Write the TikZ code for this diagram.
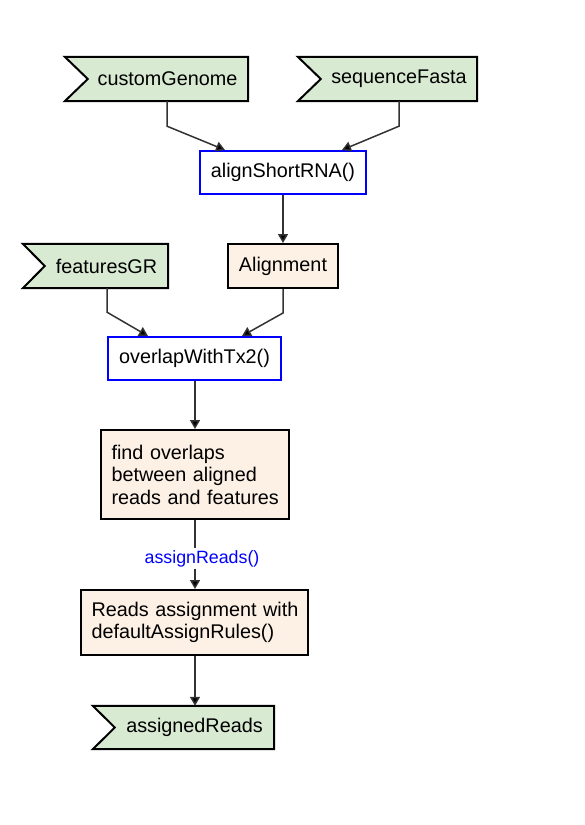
\documentclass[tikz,border=0pt]{standalone}
\usepackage{fontspec}
\setmainfont{Liberation Sans}
\usetikzlibrary{arrows.meta,calc,backgrounds}
\definecolor{flaggreen}{HTML}{D9EAD3}
\definecolor{peach}{HTML}{FDF1E5}
\definecolor{connc}{HTML}{333333}
\tikzset{
  mainfont/.style={font=\fontsize{19.8}{22.5}\selectfont},
  flagnode/.style={inner sep=0pt, mainfont},
  flagdraw/.style={draw=black, line width=2pt, fill=flaggreen, line join=miter},
  funcbox/.style={draw=blue, line width=2pt, fill=white, inner sep=0pt, mainfont},
  databox/.style={draw=black, line width=2pt, fill=peach, inner sep=0pt, mainfont},
  textbox/.style={draw=black, line width=2pt, fill=peach, inner xsep=10.5pt, inner ysep=0pt, align=left, mainfont},
  conn/.style={draw=connc, line width=1.5pt, -{Triangle[width=10pt,length=9pt,fill=black]}},
  fnlabel/.style={fill=white, text=blue, inner sep=2pt, font=\fontsize{17.8}{20}\selectfont}
}
\begin{document}
\begin{tikzpicture}[x=1pt,y=-1pt]
\useasboundingbox (0,0) rectangle (584,825);

% flag nodes (text only; shapes drawn on background layer)
\node[flagnode, minimum width=183pt, minimum height=44pt] (cg) at (156.5,79) {\hspace*{22pt}customGenome};
\node[flagnode, minimum width=179pt, minimum height=44pt] (sf) at (387.5,79) {\hspace*{23pt}sequenceFasta};
\node[flagnode, minimum width=145pt, minimum height=44pt] (fg) at (95.5,266) {\hspace*{22pt}featuresGR};
\node[flagnode, minimum width=181pt, minimum height=43pt] (ar) at (183.5,727.5) {\hspace*{22pt}assignedReads};

\begin{scope}[on background layer]
\fill[white] (0,0) rectangle (584,825);
\foreach \n/\d in {cg/23, sf/23, fg/22, ar/22}{
  \draw[flagdraw] (\n.north west) -- (\n.north east) -- (\n.south east) -- (\n.south west) -- ($(\n.west)+(\d,0)$) -- cycle;
}
\end{scope}

% boxes
\node[funcbox, minimum width=166pt, minimum height=43pt] (asr) at (283,172.5) {alignShortRNA()};
\node[databox, minimum width=110pt, minimum height=44pt] (al) at (283,266) {Alignment};
\node[funcbox, minimum width=173pt, minimum height=43pt] (ov) at (194.5,358.5) {overlapWithTx2()};
\node[textbox, text width=167pt, minimum height=89pt] (fo) at (195,474.5) {\mbox{find overlaps}\\\mbox{between aligned}\\\mbox{reads and features}};
\node[textbox, text width=206pt, minimum height=65pt] (ra) at (194.5,622.5) {\mbox{Reads assignment with}\\\mbox{defaultAssignRules()}};

% connectors
\draw[conn] ($(cg.south)+(10.5,0)$) -- ++(0,25) -- ($(asr.north)+(-58,0)$);
\draw[conn] ($(sf.south)+(11.5,0)$) -- ++(0,25) -- ($(asr.north)+(59,0)$);
\draw[conn] (asr.south) -- (al.north);
\draw[conn] ($(fg.south)+(11.5,0)$) -- ++(0,24) -- ($(ov.north)+(-46.5,0)$);
\draw[conn] (al.south) -- ++(0,24) -- ($(ov.north)+(47.5,0)$);
\draw[conn] (ov.south -| fo.north) -- (fo.north);
\draw[conn] (fo.south) -- node[fnlabel, pos=0.56, xshift=7pt] {assignReads()} (ra.north -| fo.south);
\draw[conn] (ra.south -| fo.south) -- (ar.north -| fo.south);
\end{tikzpicture}
\end{document}
